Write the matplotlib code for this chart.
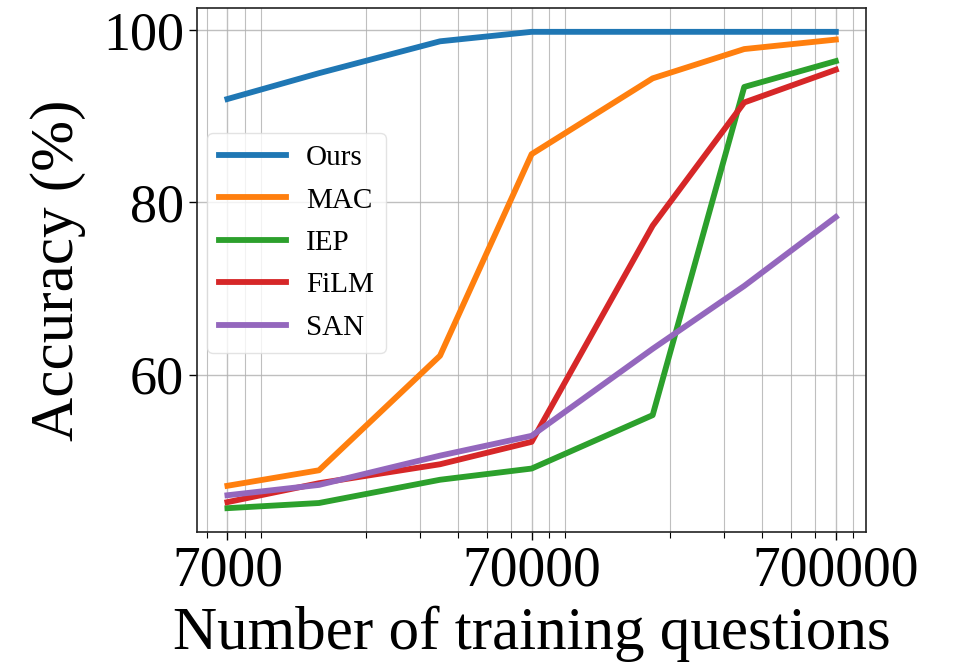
import matplotlib
matplotlib.use('Agg')
import matplotlib.pyplot as plt
from matplotlib.ticker import NullFormatter, LogLocator

# training set sizes (x axis, log scale)
train_sizes = [7000, 14000, 35000, 70000, 175000, 350000, 700000]
tick_values = [7000, 70000, 700000]
tick_labels = ['7000', '70000', '700000']

# accuracy (%) per model
acc_ours = [92.0, 95.0, 98.7, 99.8, 99.8, 99.8, 99.8]
acc_mac = [47.1, 48.9, 62.2, 85.6, 94.4, 97.8, 98.9]
acc_iep = [44.5, 45.1, 47.8, 49.1, 55.3, 93.4, 96.4]
acc_film = [45.2, 47.4, 49.6, 52.2, 77.3, 91.6, 95.4]
acc_san = [46.0, 47.2, 50.6, 52.9, 63.0, 70.3, 78.3]

plt.rcParams['font.family'] = ['Liberation Serif', 'DejaVu Serif']

fig = plt.figure(figsize=(9.54, 6.68), dpi=100)
ax = fig.add_axes([0.2065, 0.2036, 0.7015, 0.7844])

lw = 4.2
ax.plot(train_sizes, acc_ours, color='tab:blue', linewidth=lw, label='Ours')
ax.plot(train_sizes, acc_mac, color='tab:orange', linewidth=lw, label='MAC')
ax.plot(train_sizes, acc_iep, color='tab:green', linewidth=lw, label='IEP')
ax.plot(train_sizes, acc_film, color='tab:red', linewidth=lw, label='FiLM')
ax.plot(train_sizes, acc_san, color='tab:purple', linewidth=lw, label='SAN')

ax.set_xscale('log')
ax.set_xticks(tick_values)
ax.set_xticklabels(tick_labels)
ax.xaxis.set_minor_locator(LogLocator(base=10, subs=range(2, 10)))
ax.xaxis.set_minor_formatter(NullFormatter())
ax.set_yticks([60, 80, 100])

ax.grid(True, which='major', color='#b0b0b0', linewidth=1.0, alpha=0.8)
ax.grid(True, which='minor', axis='x', color='#b0b0b0', linewidth=0.8, alpha=0.8)

ax.tick_params(axis='x', which='major', labelsize=40, length=6, width=1.0)
ax.tick_params(axis='y', which='major', labelsize=39, length=6, width=1.0)
ax.tick_params(axis='x', which='minor', length=4, width=0.8)

ax.set_xlabel('Number of training questions', fontsize=44, labelpad=6)
ax.set_ylabel('Accuracy (%)', fontsize=44, labelpad=12)

for sp in ax.spines.values():
    sp.set_color('#222222')
    sp.set_linewidth(1.2)

ax.legend(loc='center left', bbox_to_anchor=(0.015, 0.552), borderaxespad=0,
          fontsize=21, handlelength=2.3, handletextpad=0.7, labelspacing=0.55,
          framealpha=0.8, edgecolor='#dddddd')

fig.savefig('out.png', dpi=100)
